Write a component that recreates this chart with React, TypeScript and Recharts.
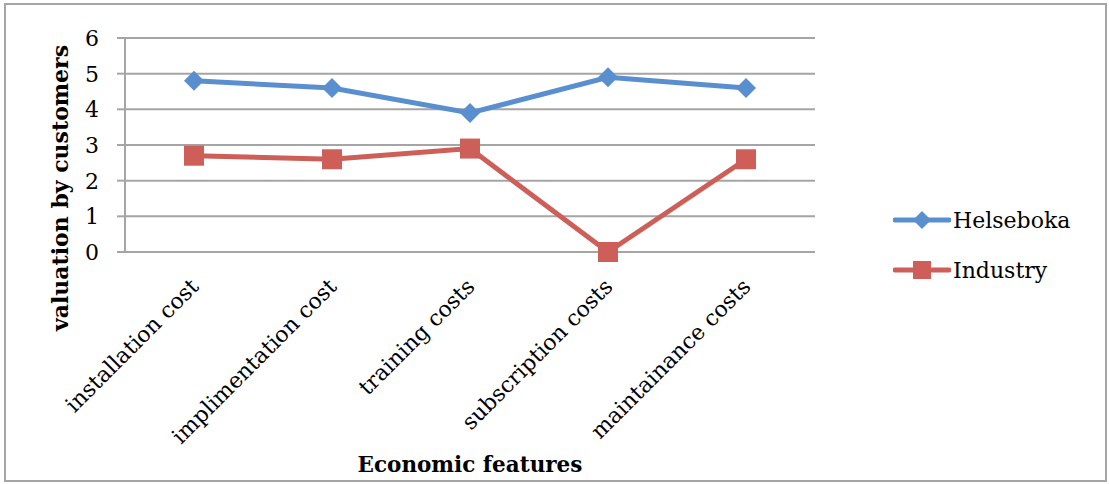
import React from "react";
import { LineChart, Line, XAxis, YAxis, CartesianGrid, Legend } from "recharts";

const categories = ["installation cost", "implimentation cost", "training costs", "subscription costs", "maintainance costs"];
const helseboka = [4.8, 4.6, 3.9, 4.9, 4.6];
const industry = [2.7, 2.6, 2.9, 0, 2.6];
const yTicks = [0, 1, 2, 3, 4, 5, 6];

const data = categories.map((c, i) => ({ name: c, Helseboka: helseboka[i], Industry: industry[i] }));

const FONT = "'DejaVu Serif', serif";
const BLUE = "#5A8FCF";
const RED = "#CD5F58";
const GRAY = "#A5A5A5";

const Diamond = (props: any) => {
  const { cx, cy } = props;
  if (cx == null || cy == null) return null;
  const r = 10;
  return <path d={`M${cx},${cy - r}L${cx + r},${cy}L${cx},${cy + r}L${cx - r},${cy}Z`} fill={BLUE} />;
};

const Square = (props: any) => {
  const { cx, cy } = props;
  if (cx == null || cy == null) return null;
  const r = 10;
  return <rect x={cx - r} y={cy - r} width={2 * r} height={2 * r} fill={RED} />;
};

const CatTick = (props: any) => {
  const { x, y, payload } = props;
  const ax = x + 6;
  const ay = y + 28;
  return (
    <text
      x={ax}
      y={ay}
      transform={`rotate(-45 ${ax} ${ay})`}
      textAnchor="end"
      fontFamily={FONT}
      fontSize={22}
      fill="#000"
    >
      {payload.value}
    </text>
  );
};

const YTick = (props: any) => {
  const { x, y, payload } = props;
  return (
    <text x={x} y={y + 8} textAnchor="end" fontFamily={FONT} fontSize={22} fill="#000">
      {payload.value}
    </text>
  );
};

const LegendContent = (props: any) => {
  const { payload } = props;
  return (
    <div>
      {(payload || []).map((p: any, i: number) => (
        <div key={i} style={{ display: "flex", alignItems: "center", height: 50 }}>
          <svg width={58} height={24}>
            <line x1={2} y1={12} x2={56} y2={12} stroke={p.color} strokeWidth={5} strokeLinecap="round" />
            {p.value === "Helseboka" ? (
              <path d="M29,3L38,12L29,21L20,12Z" fill={p.color} />
            ) : (
              <rect x={20} y={3} width={18} height={18} fill={p.color} />
            )}
          </svg>
          <span style={{ fontFamily: FONT, fontSize: 22, color: "#000", marginLeft: 2 }}>{p.value}</span>
        </div>
      ))}
    </div>
  );
};

export default function App() {
  return (
    <div style={{ position: "absolute", left: 0, top: 0, width: 1109, height: 484 }}>
      <div
        style={{
          position: "absolute",
          left: 4,
          top: 3,
          width: 1103,
          height: 479,
          border: `2px solid ${GRAY}`,
          boxSizing: "border-box",
        }}
      />
      <div style={{ position: "absolute", left: 0, top: 0 }}>
        <LineChart width={1109} height={484} data={data} margin={{ top: 38, right: 294, left: 0, bottom: 0 }}>
          <CartesianGrid vertical={false} stroke={GRAY} strokeWidth={2} />
          <XAxis
            dataKey="name"
            height={232}
            scale="band"
            stroke={GRAY}
            strokeWidth={2}
            tickLine={false}
            tick={<CatTick />}
            interval={0}
            label={{ value: "Economic features", position: "insideBottom", offset: 12, style: { fontFamily: FONT, fontSize: 21.5, fontWeight: "bold", fill: "#000" } }}
          />
          <YAxis
            domain={[0, 6]}
            ticks={yTicks}
            width={125}
            stroke={GRAY}
            strokeWidth={2}
            tickSize={8}
            tickMargin={18}
            tick={<YTick />}
            label={{ value: "valuation by customers", angle: -90, position: "insideLeft", offset: 0, dx: 60, dy: 43, style: { fontFamily: FONT, fontSize: 22, fontWeight: "bold", fill: "#000", textAnchor: "middle" } }}
          />
          <Legend
            layout="horizontal"
            verticalAlign="middle"
            align="center"
            content={<LegendContent />}
            wrapperStyle={{ left: 893, top: 195, width: 210 }}
          />
          <Line dataKey="Helseboka" stroke={BLUE} strokeWidth={5} dot={<Diamond />} activeDot={false} isAnimationActive={false} />
          <Line dataKey="Industry" stroke={RED} strokeWidth={5} dot={<Square />} activeDot={false} isAnimationActive={false} />
        </LineChart>
      </div>
    </div>
  );
}
